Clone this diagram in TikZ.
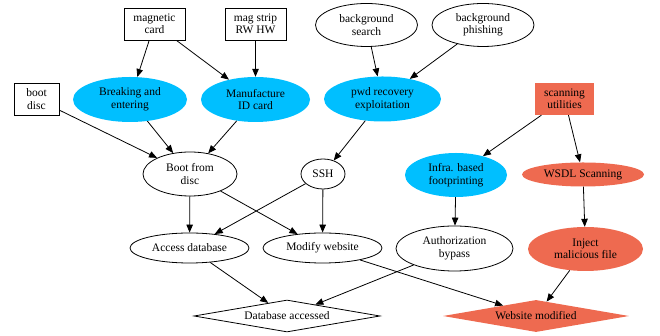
\documentclass[tikz,border=0pt]{standalone}
\usepackage{fontspec}
\setmainfont{Liberation Serif}
\usetikzlibrary{shapes.geometric,arrows.meta}
\definecolor{gvblue}{HTML}{00BFFF}
\definecolor{gvred}{HTML}{EE6A50}
\tikzset{
  every node/.style={font=\fontsize{11.5}{12.5}\selectfont, align=center, inner sep=0pt},
  boxnode/.style={draw, rectangle, line width=0.8pt},
  ell/.style={draw, ellipse, line width=0.8pt},
  blueell/.style={ellipse, fill=gvblue},
  redell/.style={ellipse, fill=gvred},
  dia/.style={draw, diamond, aspect=5.8, line width=0.8pt},
  reddia/.style={diamond, aspect=5.8, fill=gvred},
  arr/.style={line width=0.8pt, -{Triangle[length=8pt,width=6.5pt]}},
}
\begin{document}
\begin{tikzpicture}[x=1pt,y=1pt]
\useasboundingbox (0,0) rectangle (660,336);
% top row
\node[boxnode, minimum width=61, minimum height=32] (mag) at (154.5,312) {magnetic\\card};
\node[boxnode, minimum width=61, minimum height=32] (strip) at (255.5,312) {mag strip\\RW HW};
\node[ell, minimum width=102, minimum height=43] (bsearch) at (366.5,311) {background\\search};
\node[ell, minimum width=102, minimum height=43] (bphish) at (483,311) {background\\phishing};
% second row
\node[boxnode, minimum width=45, minimum height=32] (bdisc) at (36.5,237) {boot\\disc};
\node[blueell, minimum width=114, minimum height=45] (break) at (130,236.5) {Breaking and\\entering};
\node[blueell, minimum width=109, minimum height=45] (manu) at (255.5,236.5) {Manufacture\\ID card};
\node[blueell, minimum width=117, minimum height=45] (pwd) at (382.5,237) {pwd recovery\\exploitation};
\node[rectangle, fill=gvred, minimum width=59, minimum height=32] (scan) at (564.5,237) {scanning\\utilities};
% third row
\node[ell, minimum width=94, minimum height=44] (boot) at (190,162) {Boot from\\disc};
\node[ell, minimum width=44, minimum height=30] (ssh) at (323,162) {SSH};
\node[blueell, minimum width=102, minimum height=44] (infra) at (456,161) {Infra. based\\footprinting};
\node[redell, minimum width=122, minimum height=24] (wsdl) at (583,161.5) {WSDL Scanning};
% fourth row
\node[ell, minimum width=119, minimum height=30] (access) at (189.5,88) {Access database};
\node[ell, minimum width=119, minimum height=30] (modify) at (322.5,88) {Modify website};
\node[ell, minimum width=117, minimum height=45] (auth) at (454.5,87.5) {Authorization\\bypass};
\node[redell, minimum width=115, minimum height=44] (inject) at (585.5,87) {Inject\\malicious file};
% bottom
\node[dia, minimum width=186, minimum height=32] (dbacc) at (287,20) {Database accessed};
\node[reddia, minimum width=186, minimum height=32] (webmod) at (536,20) {Website modified};
% edges
\draw[arr] (mag) -- (break);
\draw[arr] (mag) -- (manu);
\draw[arr] (strip) -- (manu);
\draw[arr] (bsearch) -- (pwd);
\draw[arr] (bphish) -- (pwd);
\draw[arr] (bdisc) -- (boot);
\draw[arr] (break) -- (boot);
\draw[arr] (manu) -- (boot);
\draw[arr] (pwd) -- (ssh);
\draw[arr] (scan) -- (infra);
\draw[arr] (scan) -- (wsdl);
\draw[arr] (boot) -- (access);
\draw[arr] (boot) -- (modify);
\draw[arr] (ssh) -- (access);
\draw[arr] (ssh) -- (modify);
\draw[arr] (infra) -- (auth);
\draw[arr] (wsdl) -- (inject);
\draw[arr] (access) -- (dbacc);
\draw[arr] (auth) -- (dbacc);
\draw[arr] (modify) -- (webmod);
\draw[arr] (inject) -- (webmod);
\end{tikzpicture}
\end{document}
